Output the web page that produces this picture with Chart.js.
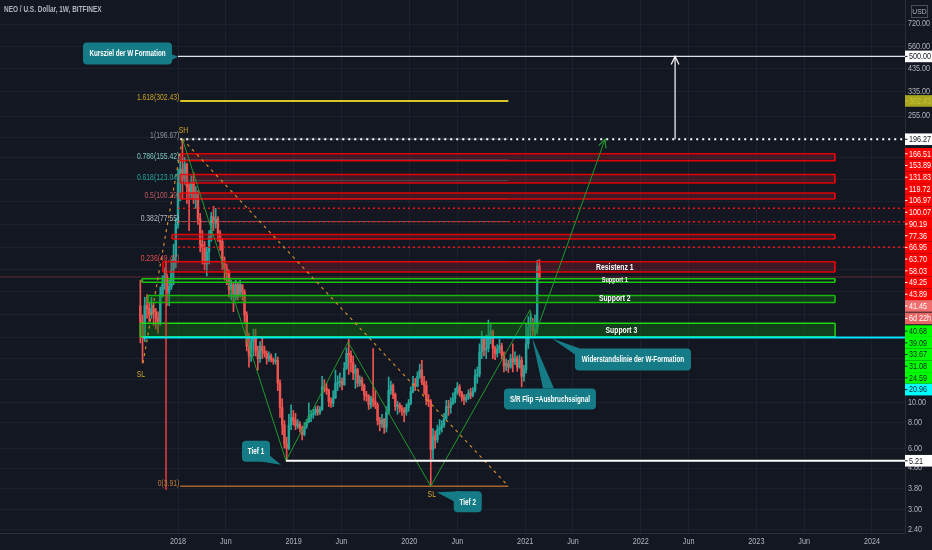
<!DOCTYPE html>
<html>
<head>
<meta charset="utf-8">
<title>NEO / U.S. Dollar, 1W, BITFINEX</title>
<script src="https://cdn.jsdelivr.net/npm/chart.js@4.4.1/dist/chart.umd.min.js"></script>
<style>
  html, body { margin: 0; padding: 0; background: #131722; overflow: hidden; }
  #wrap { position: relative; width: 932px; height: 550px; }
</style>
</head>
<body>
<div id="wrap"><canvas id="chart" width="932" height="550"></canvas></div>
<script>
// Weekly candles, week 0 = 2018-01-01; first candle is 2017-09-04
const firstWeek = -17;
const firstOpen = 30;
const closes = [
  25, 21, 30, 29, 27, 29, 28, 26, 25, 34, 38, 42, 35, 37, 45, 52, 75,
  120, 140, 125, 148, 115, 105, 120, 100, 105, 80, 60, 58, 48,
  55, 65, 82, 76, 80, 68, 62, 48, 46, 44, 36, 38, 33,
  38, 34, 38, 35, 27, 19, 17, 20, 21, 18, 16.5, 19, 18,
  17.5, 16.5, 17, 16.3, 16, 16.2, 12.5, 9.5, 7.8, 6.3, 6.0, 7.8, 8.5,
  8.2, 7.7, 7.9, 7.5, 7.0, 7.7, 8.1, 8.6, 8.8, 8.9, 9.3, 9.0, 9.3,
  12.0, 11.8, 11.5, 10.2, 10.0, 10.6, 12.5, 12.6, 12.8, 12.3, 14.8, 17.5, 17.2,
  15.8, 14.0, 14.6, 12.5, 13.0, 12.2, 11.0, 10.8, 9.8, 10.5, 10.2, 9.8, 8.2,
  7.9, 8.3, 7.6, 9.0, 11.5, 12.2, 11.0, 9.6, 9.8, 9.4, 9.2, 9.0, 9.5,
  10.0, 11.4, 12.5, 12.1, 13.5, 14.5, 12.6, 12.2, 10.3, 10.2, 5.9, 6.9, 6.6,
  7.4, 7.6, 7.8, 8.4, 9.6, 9.5, 10.0, 10.5, 11.3, 12.0, 11.2, 10.6, 10.4,
  10.6, 11.2, 10.9, 11.5, 13.6, 13.8, 17.8, 20.5, 18.2, 18.5, 21.5, 22.5, 18.5,
  17.5, 18.4, 19.0, 17.2, 15.2, 15.6, 15.0, 16.5, 15.9, 16.6, 15.0, 16.2, 13.5,
  14.6, 19.5, 23.5, 24.5, 22.5, 22.8, 47, 41.45
];
const highs = [
  40, 27, 33, 34, 31, 33, 31, 29, 28, 37, 42, 46, 43, 40, 50, 60, 80,
  140, 165, 196.67, 160, 150, 120, 130, 135, 115, 110, 85, 70, 62,
  58, 70, 86, 92, 90, 82, 70, 64, 52, 48, 45, 40, 39,
  40, 39, 40, 38, 36, 28, 22, 21, 23, 23, 19, 20, 21,
  19, 18, 17.8, 17.4, 16.6, 17.5, 16.8, 13, 10.5, 8.2, 6.8, 8.8, 9.8,
  9.2, 8.9, 8.3, 8.1, 7.7, 8.0, 8.3, 10.0, 9.2, 9.3, 9.6, 9.7, 9.6,
  13.5, 13.0, 12.5, 11.7, 10.6, 11.5, 14.5, 13.6, 14.0, 13.3, 15.8, 18.6, 20.5,
  18.0, 17.0, 15.4, 14.8, 13.6, 13.4, 12.4, 11.4, 11.0, 10.8, 18.5, 11.5, 10.0,
  8.5, 8.8, 8.4, 9.6, 13.4, 12.8, 12.4, 11.2, 10.2, 10.0, 9.7, 9.5, 9.9,
  10.4, 12.0, 13.5, 13.2, 14.2, 15.5, 16.2, 13.5, 12.8, 11.0, 10.4, 7.5, 7.3,
  7.8, 8.3, 8.2, 8.9, 10.3, 10.3, 10.6, 11.2, 11.8, 12.6, 12.3, 11.4, 11.0,
  11.0, 11.6, 11.8, 11.9, 14.6, 15.0, 19.5, 22.5, 21.0, 21.5, 25.5, 24.5, 22.8,
  19.0, 19.3, 20.5, 19.6, 17.8, 16.4, 16.2, 17.3, 19.5, 17.8, 17.0, 17.2, 16.8,
  15.3, 24.6, 26.5, 27.6, 26.0, 27.0, 50, 50.5
];
const lows = [
  19.7, 15.7, 20, 26, 25, 26, 24, 23, 22, 24, 33, 36, 30, 30, 36, 38, 46,
  72, 98, 100, 118, 95, 70, 100, 95, 90, 75, 55, 48, 45,
  42, 48, 62, 70, 72, 62, 56, 45, 40, 38, 33, 32, 28,
  32, 32, 33, 32, 25, 18, 15, 16, 17, 17, 14.5, 15.8, 16.5,
  16.8, 15.5, 16, 15.9, 15.5, 15.5, 11.5, 8.5, 7, 6, 5.21, 5.9, 7.4,
  7.8, 7.4, 7.5, 7.2, 6.6, 6.9, 7.5, 8.0, 8.1, 8.4, 8.7, 8.7, 8.8,
  9.2, 11.3, 11.0, 9.6, 9.5, 9.6, 10.5, 11.5, 12.0, 11.6, 12.2, 14.6, 13.8,
  14.2, 13.0, 11.8, 12.0, 12.1, 11.5, 10.3, 10.2, 9.3, 9.4, 9.6, 9.4, 7.8,
  7.3, 7.6, 7.1, 7.2, 8.8, 11.0, 10.5, 9.2, 8.8, 9.0, 8.7, 8.1, 8.7,
  9.1, 9.8, 11.2, 11.5, 12.0, 13.2, 12.3, 11.0, 9.8, 9.6, 3.91, 5.3, 6.0,
  6.4, 7.0, 7.2, 7.6, 8.3, 8.7, 8.9, 9.8, 10.0, 11.0, 10.8, 10.2, 9.8,
  10.1, 10.4, 10.5, 10.7, 11.3, 12.5, 13.4, 16.5, 17.0, 16.5, 17.8, 19.5, 16.5,
  16.3, 16.8, 17.6, 16.4, 14.2, 14.4, 14.1, 14.8, 14.2, 15.4, 14.3, 14.8, 12.0,
  12.8, 14.0, 18.5, 21.0, 21.0, 21.2, 21.8, 40.5
];

// axis ticks (weeks since 2018-01-01)
const xTickWeeks = [0, 21.57, 52.14, 73.71, 104.29, 125.99, 156.57, 178.14, 208.71, 230.29, 260.86, 282.43, 313];
const xTickLabels = ['2018', 'Jun', '2019', 'Jun', '2020', 'Jun', '2021', 'Jun', '2022', 'Jun', '2023', 'Jun', '2024'];
const yTickValues = [720, 560, 435, 335, 255, 200, 160, 125, 97, 75, 58, 45, 35, 27, 21, 16.5, 13, 10, 8, 6, 4.8, 3.8, 3.0, 2.4];
const yTickLabels = ['720.00', '560.00', '435.00', '335.00', '255.00', '', '', '', '', '', '', '', '', '', '', '', '', '10.00', '8.00', '6.00', '4.80', '3.80', '3.00', '2.40'];

// drawn levels
const targetLevel = 500;
const swingHighLine = 196.27;
const lowLine = 5.21;
const necklineLevel = 20.96;
const currentPrice = 41.45;
const redZones = [[166.51, 153.89], [131.83, 119.72], [106.97, 100.07], [66.95, 63.70], [49.25, 43.89]];
const redZoneStart = [1, 1, 1, -2.7, -6.8];
const redDotted = [90.19, 77.36, 58.03];
const greenZones = [[40.68, 39.09], [33.67, 31.08], [24.59, 21.1]];
const greenZoneStart = [-16.2, -13.5, -17];
const greenZoneNames = ['Support 1', 'Support 2', 'Support 3'];
const zoneEnd = 296.3;
const fibRatios = ['1.618', '1', '0.786', '0.618', '0.5', '0.382', '0.236', '0'];
const fibValues = [302.43, 196.67, 155.42, 123.04, 100.29, 77.55, 49.41, 3.91];
const fibFrom = 1, fibTo = 149;
const wWeeks = [2, 48.7, 76.7, 114, 158.8, 161, 192.6];
const wValues = [196.67, 5.21, 19.9, 3.91, 28.6, 21.5, 196];
const swingLow = [-15.8, 15.7];
const swingHigh = [2, 196.67];
const targetWeek = 224.2;

const X_MIN = -80.29, X_MAX = 327.9, Y_MIN = 2.305, Y_MAX = 945;
const FONT = '"Liberation Sans", Arial, sans-serif';
const GRID = '#1d212d';
const TEXT = '#b2b5be';

const opens = closes.map((c, i) => i === 0 ? firstOpen : closes[i - 1]);
const candleWeeks = closes.map((c, i) => firstWeek + i);
const candleColors = closes.map((c, i) => c >= opens[i] ? '#26a69a' : '#ef5350');

const datasets = [];

function addLine(points, color, width, dash, order, extra) {
  datasets.push(Object.assign({
    type: 'line',
    data: points.map(p => ({ x: p[0], y: p[1] })),
    borderColor: color,
    borderWidth: width,
    borderDash: dash || [],
    pointRadius: 0,
    fill: false,
    tension: 0,
    order: order
  }, extra || {}));
  return datasets.length - 1;
}

function addZone(top, bottom, from, to, line, fillColor, order) {
  const i = addLine([[from, top], [to, top]], line, 1.5, null, order);
  addLine([[from, bottom], [to, bottom]], line, 1.5, null, order, { fill: i, backgroundColor: fillColor });
  addLine([[from, top], [from, bottom]], line, 1, null, order);
  addLine([[to, top], [to, bottom]], line, 1, null, order);
}

// current price line (faint, behind everything)
addLine([[X_MIN, currentPrice], [X_MAX, currentPrice]], 'rgba(239,83,80,0.35)', 1, null, 300);

// candles: wicks then bodies
datasets.push({
  type: 'bar',
  data: candleWeeks.map((w, i) => ({ x: w, y: [lows[i], highs[i]] })),
  backgroundColor: candleColors, barThickness: 1, grouped: false, order: 150
});
datasets.push({
  type: 'bar',
  data: candleWeeks.map((w, i) => ({ x: w, y: [opens[i], closes[i]] })),
  backgroundColor: candleColors, barThickness: 1.8, grouped: false, order: 149, minBarLength: 1
});

// fib retracement lines
const fibLineColors = ['#d6c626', 'rgba(150,150,150,0.5)', 'rgba(128,203,196,0.45)', 'rgba(38,166,154,0.45)',
  'rgba(200,80,90,0.45)', 'rgba(180,180,180,0.45)', 'rgba(240,80,80,0.45)', '#a8642a'];
const fibLineWidths = [2, 1, 1, 1, 1, 1, 1, 1.5];
fibValues.forEach((v, i) => addLine([[fibFrom, v], [fibTo, v]], fibLineColors[i], fibLineWidths[i], null, 120));

// zones
redZones.forEach((z, i) => addZone(z[0], z[1], redZoneStart[i], zoneEnd, 'rgba(255,0,0,0.85)', 'rgba(178,30,45,0.28)', 100));
redDotted.forEach(v => addLine([[0, v], [X_MAX, v]], 'rgba(255,20,20,0.9)', 1.5, [2, 3], 95));
addZone(greenZones[0][0], greenZones[0][1], greenZoneStart[0], zoneEnd, '#16c60c', 'rgba(0,0,0,0)', 100);
addZone(greenZones[1][0], greenZones[1][1], greenZoneStart[1], zoneEnd, '#16b80c', 'rgba(20,120,20,0.35)', 100);
addZone(greenZones[2][0], greenZones[2][1], greenZoneStart[2], zoneEnd, '#20d810', 'rgba(20,110,20,0.45)', 100);

// horizontal lines
addLine([[swingLow[0], necklineLevel], [X_MAX, necklineLevel]], '#00e5ff', 2, null, 40);
addLine([[wWeeks[1], lowLine], [X_MAX, lowLine]], '#ffffff', 2, null, 40);
addLine([[fibFrom, swingHighLine], [X_MAX, swingHighLine]], '#ffffff', 2, [2, 4], 40);
addLine([[0, targetLevel], [X_MAX, targetLevel]], '#e0e3eb', 1.2, null, 40);
addLine([[targetWeek, swingHighLine], [targetWeek, targetLevel]], '#ffffff', 1.2, null, 40);

// red vertical line
addLine([[-5.4, 49.41], [-5.4, 3.75]], 'rgba(230,60,60,0.8)', 1, null, 45);

// orange dashed trend lines
addLine([swingLow, swingHigh], '#d08a2c', 1.2, [3, 4], 45);
addLine([swingHigh, [fibTo, fibValues[7]]], '#d08a2c', 1.2, [3, 4], 45);

// W formation
addLine(wWeeks.map((w, i) => [w, wValues[i]]), '#1f9a2c', 1, null, 44);

const callouts = [
  { text: 'Kursziel der W Formation', at: [0, targetLevel], tip: [0, 0], box: [-95, -14, 89, 22], tail: [[81, 22], [89, 12]] },
  { text: 'Tief 1', at: [wWeeks[1], lowLine], tip: [-5, 4], box: [-44, -20, 28, 21], tail: [[20, 21], [28, 15]] },
  { text: 'Tief 2', at: [wWeeks[3], fibValues[7]], tip: [6, 6], box: [23, 5, 28, 21], tail: [[0, 10], [7, 0]] },
  { text: 'Widerstandslinie der W-Formation', at: [wWeeks[5], necklineLevel], tip: [17, 1], box: [40, 11, 116, 22], tail: [[0, 6], [5, 0]] },
  { text: 'S/R Flip =Ausbruchssignal', at: [wWeeks[5], necklineLevel], tip: [-3, 0], box: [-31, 51, 92, 21], tail: [[39, 0], [50, 0]] }
];
const fibLabelColors = ['#c9a32c', '#8f929b', '#7fcbc2', '#26a69a', '#c0575e', '#b9bbc2', '#e05050', '#c07a3a'];

// condensed text: TradingView's label font is narrower than the installed sans
function drawText(ctx, s, x, y, color, align, size, sx, weight) {
  ctx.save();
  ctx.font = (weight ? weight + ' ' : '') + (size || 8.5) + 'px ' + FONT;
  ctx.fillStyle = color;
  ctx.textAlign = 'left';
  ctx.textBaseline = 'middle';
  const k = sx || 0.8;
  const w = ctx.measureText(s).width * k;
  let x0 = x;
  if (align === 'center') x0 = x - w / 2;
  else if (align === 'right') x0 = x - w;
  ctx.translate(x0, y);
  ctx.scale(k, 1);
  ctx.fillText(s, 0, 0);
  ctx.restore();
}

function arrowHead(ctx, x0, y0, x1, y1, len, color) {
  const a = Math.atan2(y1 - y0, x1 - x0);
  ctx.strokeStyle = color;
  ctx.lineWidth = 1.2;
  ctx.beginPath();
  ctx.moveTo(x1 - len * Math.cos(a - 0.45), y1 - len * Math.sin(a - 0.45));
  ctx.lineTo(x1, y1);
  ctx.lineTo(x1 - len * Math.cos(a + 0.45), y1 - len * Math.sin(a + 0.45));
  ctx.stroke();
}

const overlay = {
  id: 'overlay',
  beforeDraw(chart) {
    const c = chart.ctx;
    c.save();
    c.fillStyle = '#131722';
    c.fillRect(0, 0, chart.width, chart.height);
    c.restore();
  },
  afterDatasetsDraw(chart) {
    const { ctx, chartArea: ca } = chart;
    const xs = chart.scales.x, ys = chart.scales.y;
    const P = (w, v) => [xs.getPixelForValue(w), ys.getPixelForValue(v)];
    ctx.save();
    ctx.beginPath();
    ctx.rect(ca.left, ca.top, ca.right - ca.left, ca.bottom - ca.top);
    ctx.clip();

    // fib labels
    fibValues.forEach((v, i) => {
      const [x, y] = P(fibFrom, v);
      drawText(ctx, fibRatios[i] + '(' + v.toFixed(2) + ')', x - 1, y - 3, fibLabelColors[i], 'right');
    });

    // SH / SL
    let p = P(swingHigh[0], swingHigh[1]);
    drawText(ctx, 'SH', p[0] + 1, p[1] - 8, '#d4a72c', 'center');
    p = P(swingLow[0], swingLow[1]);
    drawText(ctx, 'SL', p[0] - 2, p[1] + 12, '#d4a72c', 'center');
    p = P(wWeeks[3], wValues[3]);
    drawText(ctx, 'SL', p[0] + 1, p[1] + 8, '#d4a72c', 'center');

    // zone names
    const nameWeek = 197;
    const rz = redZones[4];
    p = P(nameWeek, Math.sqrt(rz[0] * rz[1]));
    drawText(ctx, 'Resistenz 1', p[0], p[1] + 1, '#ffffff', 'center', 8.5, 0.8, 'bold');
    greenZones.forEach((z, i) => {
      const q = P(nameWeek + (i === 2 ? 3 : 0), Math.sqrt(z[0] * z[1]));
      drawText(ctx, greenZoneNames[i], q[0], q[1] + (i === 2 ? 1 : 0), '#ffffff', 'center', i === 0 ? 7 : 8.5, 0.8, 'bold');
    });

    // arrowheads
    const a0 = P(wWeeks[5], wValues[5]), a1 = P(wWeeks[6], wValues[6]);
    arrowHead(ctx, a0[0], a0[1], a1[0], a1[1], 9, '#1f9a2c');
    const t0 = P(targetWeek, swingHighLine), t1 = P(targetWeek, targetLevel);
    arrowHead(ctx, t0[0], t0[1], t1[0], t1[1], 9, '#ffffff');

    // callouts
    callouts.forEach(c => {
      const [ax, ay] = P(c.at[0], c.at[1]);
      const bx = ax + c.box[0], by = ay + c.box[1];
      ctx.fillStyle = '#157c87';
      ctx.beginPath();
      ctx.roundRect(bx, by, c.box[2], c.box[3], 4);
      ctx.fill();
      ctx.beginPath();
      ctx.moveTo(bx + c.tail[0][0], by + c.tail[0][1]);
      ctx.lineTo(ax + c.tip[0], ay + c.tip[1]);
      ctx.lineTo(bx + c.tail[1][0], by + c.tail[1][1]);
      ctx.closePath();
      ctx.fill();
      drawText(ctx, c.text, bx + c.box[2] / 2, by + c.box[3] / 2 + 0.5, '#ffffff', 'center', 8.5, 0.74, 'bold');
    });
    ctx.restore();
  },
  afterDraw(chart) {
    const { ctx, chartArea: ca } = chart;
    const xs = chart.scales.x, ys = chart.scales.y;
    ctx.save();
    drawText(ctx, 'NEO / U.S. Dollar, 1W, BITFINEX', 4, 10, TEXT, 'left', 8.5, 0.76, 'bold');

    // tick labels
    xTickWeeks.forEach((w, i) => drawText(ctx, xTickLabels[i], xs.getPixelForValue(w), ca.bottom + 9, TEXT, 'center', 8.5, 0.85));
    yTickValues.forEach((v, i) => {
      if (yTickLabels[i]) drawText(ctx, yTickLabels[i], ca.right + 3, ys.getPixelForValue(v), TEXT, 'left', 8.5, 0.85);
    });

    // USD
    ctx.strokeStyle = '#4a4e5a';
    ctx.lineWidth = 1;
    ctx.strokeRect(911.5, 5.5, 16, 12);
    drawText(ctx, 'USD', 919.5, 12, TEXT, 'center', 8, 0.85);

    const x0 = ca.right;
    const box = (y, text, bg, fg) => {
      ctx.fillStyle = bg;
      ctx.fillRect(x0, y - 5.8, chart.width - x0, 11.6);
      ctx.strokeStyle = fg;
      ctx.lineWidth = 1;
      ctx.beginPath();
      ctx.moveTo(x0, y);
      ctx.lineTo(x0 + 2.5, y);
      ctx.stroke();
      drawText(ctx, text, x0 + 4, y + 0.5, fg, 'left', 8.5, 0.85);
    };
    box(ys.getPixelForValue(targetLevel), targetLevel.toFixed(2), '#ffffff', '#131722');
    box(ys.getPixelForValue(fibValues[0]), fibValues[0].toFixed(2), '#a9a51e', '#c4c03a');
    box(ys.getPixelForValue(swingHighLine), swingHighLine.toFixed(2), '#ffffff', '#131722');

    const stacked = [];
    redZones.forEach(z => { stacked.push([z[0], '#ff0000', '#ffffff']); stacked.push([z[1], '#ff0000', '#ffffff']); });
    redDotted.forEach(v => stacked.push([v, '#ff0000', '#ffffff']));
    stacked.push([currentPrice, '#f26d6d', '#ffffff', '6d 22h']);
    greenZones.forEach((z, i) => { stacked.push([z[0], '#00ff00', '#1b1f2a']); if (i < 2) stacked.push([z[1], '#00ff00', '#1b1f2a']); });
    stacked.push([necklineLevel, '#00ffff', '#1b1f2a']);
    stacked.sort((a, b) => b[0] - a[0]);
    let prev = -1e9;
    stacked.forEach(s => {
      let y = Math.max(ys.getPixelForValue(s[0]), prev + 11.7);
      box(y, s[0].toFixed(2), s[1], s[2]);
      prev = y;
      if (s[3]) {
        y = prev + 12.5;
        box(y, s[3], '#e86566', '#ffffff');
        prev = y + 1;
      }
    });
    box(ys.getPixelForValue(lowLine), lowLine.toFixed(2), '#ffffff', '#131722');
    ctx.restore();
  }
};

new Chart(document.getElementById('chart'), {
  type: 'bar',
  data: { datasets: datasets },
  options: {
    responsive: false,
    animation: false,
    devicePixelRatio: 1,
    events: [],
    layout: { padding: 0 },
    plugins: { legend: { display: false }, tooltip: { enabled: false } },
    scales: {
      x: {
        type: 'linear', position: 'bottom', min: X_MIN, max: X_MAX, offset: false,
        grid: { color: GRID, drawTicks: false, offset: false },
        border: { color: '#2a2e39' },
        ticks: { display: false },
        afterBuildTicks: s => { s.ticks = xTickWeeks.map(v => ({ value: v })); },
        afterFit: s => { s.height = 17; }
      },
      y: {
        type: 'logarithmic', position: 'right', min: Y_MIN, max: Y_MAX,
        grid: { color: GRID, drawTicks: false },
        border: { color: '#2a2e39' },
        ticks: { display: false },
        afterBuildTicks: s => { s.ticks = yTickValues.map(v => ({ value: v })); },
        afterFit: s => { s.width = 27; }
      }
    }
  },
  plugins: [overlay]
});
</script>
</body>
</html>
